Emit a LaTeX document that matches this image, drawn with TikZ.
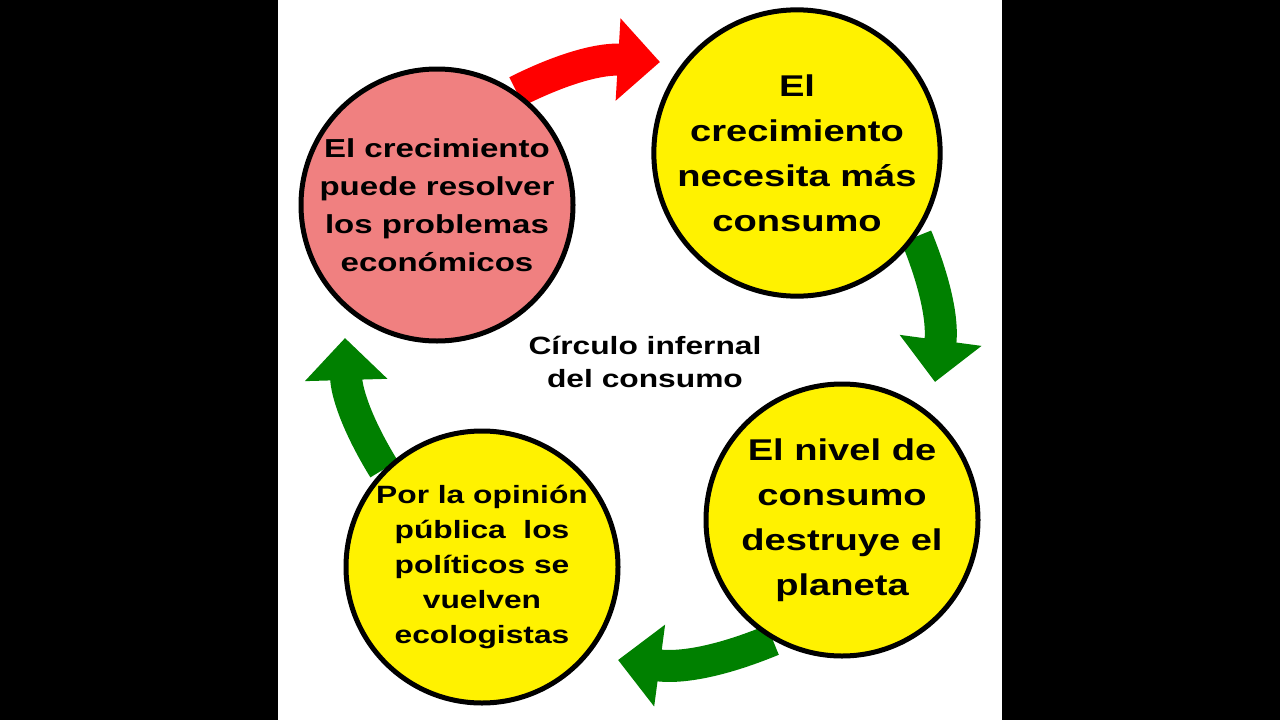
\documentclass[tikz,border=0pt]{standalone}
\usepackage{fontspec}
\setmainfont{Liberation Sans}[FakeStretch=1.27]
\usetikzlibrary{arrows.meta,backgrounds}
\tikzset{
  bubble/.style={circle,draw=black,line width=5pt,minimum size=272pt,inner sep=0pt,
    align=center,font=\bfseries\fontsize{30}{45}\selectfont},
  flow/.style={line width=32pt,-{Triangle[length=42pt,width=80pt]}},
}
\begin{document}
\begin{tikzpicture}[x=1pt,y=-1pt]
  \useasboundingbox (0,0) rectangle (1280,720);

  \node[bubble,fill={rgb,255:red,240;green,128;blue,128},font=\bfseries\fontsize{26}{38}\selectfont] (grow) at (437,205) {El crecimiento\\puede resolver\\los problemas\\económicos};
  \node[bubble,fill=yellow] (need) at (797,153) {El\\crecimiento\\necesita más\\consumo};
  \node[bubble,fill=yellow] (destroy) at (842,520) {El nivel de\\consumo\\destruye el\\planeta};
  \node[bubble,fill=yellow,font=\bfseries\fontsize{25}{35}\selectfont] (green) at (482,567) {Por la opinión\\pública\ \ los\\políticos se\\vuelven\\ecologistas};
  \node[align=center,font=\bfseries\fontsize{25}{33}\selectfont] (title) at (645,362) {Círculo infernal\\del consumo};

  \coordinate (redtip) at (660,62);
  \coordinate (downtip) at (935,382);
  \coordinate (lefttip) at (618,660);
  \coordinate (uptip) at (345,338);

  \begin{scope}[on background layer]
    \fill[black] (0,0) rectangle (1280,720);
    \fill[white] (278,0) rectangle (1002,720);
    \draw[flow,red] (grow.55) to[bend left=15] (redtip);
    \draw[flow,green!50!black] (need.-35) to[bend left=15] (downtip);
    \draw[flow,green!50!black] (destroy.-120) to[bend left=15] (lefttip);
    \draw[flow,green!50!black] (green.135) to[bend left=15] (uptip);
  \end{scope}
\end{tikzpicture}
\end{document}
